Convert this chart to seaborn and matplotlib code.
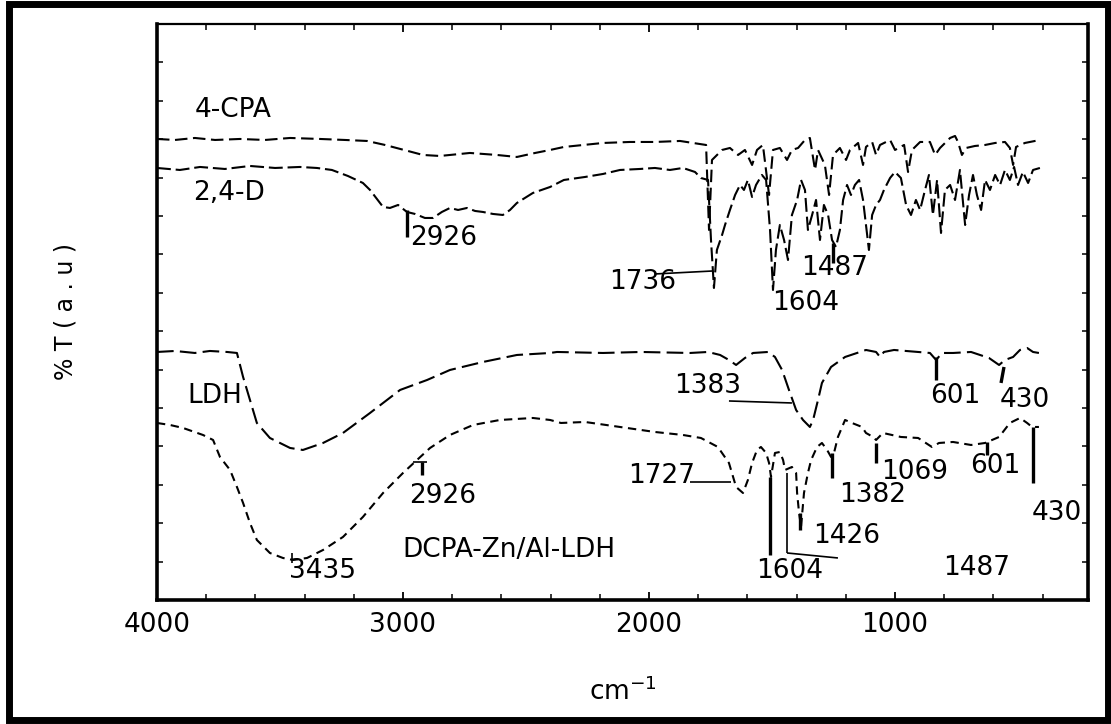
import matplotlib
matplotlib.use("Agg")
import matplotlib.pyplot as plt
import numpy as np
import pandas as pd
import seaborn as sns
from matplotlib.patches import Rectangle
from matplotlib.ticker import MultipleLocator, FixedLocator, NullFormatter

# ---------------- data (wavenumber in cm-1, transmittance in arbitrary units) ----------------
cpa_wn = [4000, 3927, 3846, 3764, 3663, 3561, 3459, 3337, 3236, 3146,
          3073, 2980, 2919, 2850, 2809, 2728, 2618, 2537, 2463, 2402,
          2346, 2187, 2077, 1976, 1874,
          1768, 1756, 1744, 1703, 1671, 1638, 1610, 1581, 1561, 1537,
          1512, 1496, 1468, 1439, 1419, 1394, 1366, 1346, 1325, 1313,
          1285, 1268, 1252, 1224, 1199, 1183, 1150, 1130, 1118, 1093,
          1077, 1061, 1020, 1000, 963, 947, 931, 898, 858, 837,
          817, 776, 756, 744, 728, 711, 675, 634, 593, 553,
          533, 520, 508, 472, 431, 411]
cpa_T = [461, 460, 462, 460, 461, 460, 462, 461, 460, 459,
         455, 449, 445, 444, 445, 447, 445, 443, 447, 450,
         453, 457, 458, 458, 459,
         455, 370, 440, 450, 452, 445, 450, 435, 450, 455,
         405, 450, 452, 440, 450, 452, 460, 462, 430, 450,
         435, 405, 445, 452, 440, 450, 457, 435, 453, 458,
         445, 455, 460, 450, 455, 428, 450, 458, 458, 445,
         452, 462, 464, 458, 445, 452, 454, 455, 457, 458,
         452, 435, 453, 457, 459, 460]

d24_wn = [4000, 3907, 3825, 3724, 3622, 3520, 3419, 3350, 3289, 3224,
          3163, 3134, 3081, 3053, 3020, 2984, 2951, 2911, 2878, 2842,
          2809, 2776, 2740, 2707, 2675, 2634, 2594, 2565, 2537, 2472,
          2402, 2346, 2260, 2187, 2118, 2037, 1976, 1915, 1862, 1813,
          1789, 1760,
          1748, 1736, 1724, 1703, 1691, 1671, 1650, 1630, 1614, 1598,
          1581, 1565, 1541, 1524, 1508, 1496, 1484, 1468, 1451, 1435,
          1419, 1398, 1382, 1366, 1354, 1337, 1321, 1305, 1289, 1272,
          1256, 1240, 1224, 1211, 1195, 1179, 1163, 1146, 1130, 1118,
          1106, 1093, 1077, 1061, 1045, 1020, 1000, 976, 955, 935,
          915, 898, 878, 862, 846, 829, 813, 797, 776, 756,
          736, 715, 699, 683, 667, 650, 634, 614, 593, 573,
          553, 533, 516, 500, 480, 459, 439, 411]
d24_T = [432, 430, 433, 431, 434, 432, 433, 432, 430, 424,
         417, 410, 393, 392, 395, 388, 386, 382, 382, 388,
         392, 390, 392, 389, 388, 386, 385, 390, 397, 407,
         413, 420, 423, 426, 430, 431, 432, 430, 432, 428,
         422, 420,
         360, 312, 350, 365, 375, 390, 405, 415, 410, 420,
         403, 415, 425, 420, 370, 310, 350, 375, 360, 340,
         385, 400, 420, 410, 370, 385, 400, 360, 395, 385,
         360, 353, 370, 400, 415, 405, 415, 420, 400, 375,
         350, 385, 395, 400, 410, 422, 428, 422, 395, 385,
         400, 390, 410, 425, 385, 420, 367, 410, 415, 400,
         430, 375, 405, 425, 405, 390, 420, 410, 425, 415,
         430, 420, 433, 415, 428, 417, 430, 432]

ldh_wn = [4000, 3927, 3846, 3785, 3715, 3675, 3650, 3622, 3594, 3541,
          3459, 3407, 3325, 3244, 3134, 3012, 2902, 2809, 2675, 2537,
          2402, 2374, 2187, 2033, 1833, 1760, 1711, 1675, 1646, 1610,
          1577, 1516, 1488, 1459, 1431, 1402, 1374, 1346, 1333, 1313,
          1297, 1260, 1203, 1118, 1077, 1061, 1045, 1004, 906, 858,
          833, 809, 764, 691, 618, 577, 553, 520, 492, 463,
          439, 415]
ldh_T = [248, 249, 247, 249, 248, 247, 223, 200, 177, 162,
         152, 150, 157, 167, 187, 210, 220, 230, 238, 245,
         247, 248, 247, 248, 247, 248, 245, 240, 235, 242,
         247, 248, 243, 230, 210, 190, 180, 173, 180, 200,
         217, 233, 243, 250, 248, 243, 248, 250, 248, 247,
         240, 247, 247, 248, 242, 235, 240, 243, 250, 252,
         248, 247]

dcpa_wn = [4000, 3947, 3894, 3813, 3772, 3744, 3703, 3675, 3650, 3622,
           3594, 3541, 3488, 3447, 3390, 3325, 3244, 3163, 3081, 3000,
           2943, 2890, 2809, 2715, 2606, 2472, 2402, 2358, 2260, 2118,
           1976, 1862, 1789, 1720, 1675, 1646, 1618, 1598, 1581, 1561,
           1545, 1524, 1512, 1504, 1488, 1468, 1455, 1447, 1419, 1402,
           1398, 1390, 1382, 1370, 1354, 1341, 1317, 1297, 1276, 1260,
           1248, 1232, 1203, 1175, 1134, 1118, 1089, 1077, 1049, 976,
           906, 850, 821, 764, 691, 634, 577, 533, 492, 463,
           443, 415]
dcpa_T = [177, 175, 172, 165, 160, 143, 130, 113, 97, 77,
          60, 47, 42, 40, 42, 50, 63, 83, 107, 127,
          140, 152, 165, 175, 180, 182, 180, 177, 178, 173,
          168, 165, 162, 153, 137, 113, 107, 120, 137, 150,
          153, 147, 137, 123, 147, 148, 140, 130, 133, 127,
          107, 87, 73, 107, 127, 140, 153, 157, 150, 143,
          147, 163, 180, 177, 173, 167, 163, 160, 167, 163,
          162, 153, 157, 158, 155, 157, 163, 177, 182, 177,
          173, 173]

sample_names = ["4-CPA", "2,4-D", "LDH", "DCPA-Zn/Al-LDH"]
sample_label_wn = [3691, 3707, 3764, 2569]
sample_label_T = [490, 407, 204, 50]

peak_labels = ["2926", "1736", "1604", "1487", "1383", "601", "430",
               "1727", "1382", "1069", "601", "430", "1426", "1604",
               "1487", "3435", "2926"]
peak_label_wn = [2833, 2024, 1362, 1244, 1760, 756, 472,
                 1947, 1093, 919, 593, 342, 1195, 1427,
                 667, 3329, 2837]
peak_label_T = [362, 318, 297, 332, 214, 204, 200,
                124, 105, 128, 134, 87, 64, 29,
                32, 29, 104]

# pointer segments: (wn0, T0, wn1, T1, heavy)
pointer_segments = [
    (2984, 390, 2984, 363, True),
    (1976, 326, 1740, 329, False),
    (1252, 357, 1252, 337, True),
    (1675, 199, 1419, 197, False),
    (833, 243, 833, 220, True),
    (557, 233, 569, 217, True),
    (1833, 118, 1667, 118, False),
    (1256, 147, 1256, 122, True),
    (1077, 157, 1077, 137, True),
    (626, 158, 626, 145, True),
    (439, 173, 439, 117, True),
    (1386, 87, 1386, 70, True),
    (1508, 123, 1508, 45, True),
    (1439, 127, 1439, 47, False),
    (1439, 47, 1232, 42, False),
    (3451, 47, 3451, 37, False),
    (2923, 138, 2923, 125, True),
    (2959, 138, 2902, 138, False),
]

# ---------------- style ----------------
sns.set_style("ticks")
plt.rcParams['font.family'] = ['DejaVu Sans']
plt.rcParams['lines.scale_dashes'] = False
plt.rcParams['mathtext.fontset'] = 'dejavusans'
plt.rcParams['text.color'] = 'black'
plt.rcParams['axes.labelcolor'] = 'black'
plt.rcParams['xtick.color'] = 'black'
plt.rcParams['ytick.color'] = 'black'

fig = plt.figure(figsize=(11.11, 7.24), dpi=100)
ax = fig.add_axes([0.1413, 0.1713, 0.8380, 0.7956])

curves = [
    (cpa_wn, cpa_T, (0, (9, 4))),
    (d24_wn, d24_T, (0, (10, 3.5))),
    (ldh_wn, ldh_T, (0, (12, 4.5))),
    (dcpa_wn, dcpa_T, (0, (6, 4))),
]
for wn, T, ls in curves:
    df = pd.DataFrame({"wn": wn, "T": T})
    sns.lineplot(data=df, x="wn", y="T", ax=ax, color="black", lw=1.5,
                 estimator=None, sort=False)
    ax.lines[-1].set_linestyle(ls)

for s, x, y in zip(sample_names, sample_label_wn, sample_label_T):
    ax.text(x, y, s, ha="center", va="center", fontsize=19, color="black")

for s, x, y in zip(peak_labels, peak_label_wn, peak_label_T):
    ax.text(x, y, s, ha="center", va="center", fontsize=19, color="black")

for x0, y0, x1, y1, heavy in pointer_segments:
    ax.plot([x0, x1], [y0, y1], color="black", lw=2.4 if heavy else 1.2,
            solid_capstyle="butt")

ax.set_xlim(4000, 215.5)
ax.set_ylim(0, 576)

ax.xaxis.set_major_locator(FixedLocator([4000, 3000, 2000, 1000]))
ax.xaxis.set_minor_locator(MultipleLocator(200))
ax.yaxis.set_major_locator(MultipleLocator(38.4))
ax.yaxis.set_major_formatter(NullFormatter())
ax.tick_params(axis="x", which="major", direction="in", length=6, width=1.3,
               top=True, bottom=True, labelsize=19, pad=9, colors="black")
ax.tick_params(axis="x", which="minor", direction="in", length=4, width=1.1,
               top=True, bottom=True)
ax.tick_params(axis="y", which="major", direction="in", length=4, width=1.1,
               left=True, right=True, labelleft=False)

for side, lw in (("left", 2.6), ("bottom", 2.6), ("right", 2.6), ("top", 1.6)):
    ax.spines[side].set_visible(True)
    ax.spines[side].set_linewidth(lw)
    ax.spines[side].set_color("black")

ax.set_xlabel("cm$^{-1}$", fontsize=19, labelpad=28, color="black")
ax.set_ylabel("% T ( a . u )", fontsize=17, labelpad=57, color="black")

fig.add_artist(Rectangle((8.5 / 1111, 4.0 / 724), 1099 / 1111, 716.5 / 724,
                         transform=fig.transFigure, fill=False,
                         lw=5, edgecolor="black"))

fig.savefig("out.png", dpi=100)
